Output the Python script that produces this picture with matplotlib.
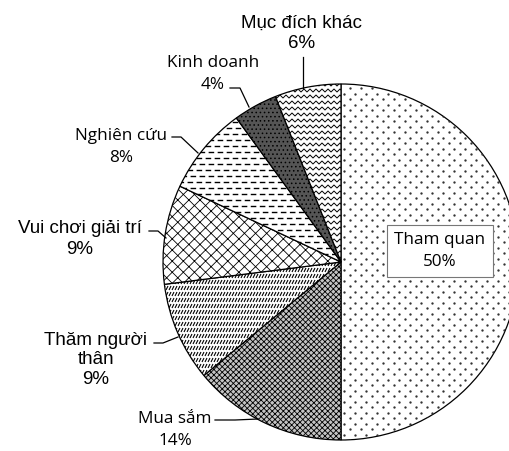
import numpy as np
import matplotlib.pyplot as plt
from matplotlib.collections import LineCollection

plt.rcParams['font.family'] = ['Open Sans', 'DejaVu Sans']
plt.rcParams['hatch.linewidth'] = 0.6

# data (clockwise from the top)
labels = ['Tham quan', 'Mua sắm', 'Thăm người\nthân', 'Vui chơi giải trí',
          'Nghiên cứu', 'Kinh doanh', 'Mục đích khác']
shares = [50, 14, 9, 9, 8, 4, 6]

faces = ['white', '#c4c4c4', 'white', 'white', 'white', '#555555', 'white']
hatches = [None, 'xxxxxx', None, 'xxx', None, '....', None]

fig = plt.figure(figsize=(5.1, 4.51), dpi=100)
ax = fig.add_axes([0, 0, 1, 1])

H = 451
cx, cy, r = 341, H - 262, 178
wedges, _ = ax.pie(shares, startangle=90, counterclock=False, center=(cx, cy),
                   radius=r, colors=faces, frame=True,
                   wedgeprops=dict(edgecolor='black', linewidth=0.9))
ax.set_xlim(0, 510)
ax.set_ylim(0, H)
ax.set_aspect('equal')
ax.axis('off')

for w, h in zip(wedges, hatches):
    if h:
        w.set_hatch(h)

# sparse dot texture for "Tham quan"
w = wedges[0]
for i, y in enumerate(np.arange(cy - r, cy + r, 5.5)):
    xs = np.arange(cx - r + (5.5 if i % 2 else 0), cx + r, 11)
    ln, = ax.plot(xs, np.full_like(xs, y), ls='none', marker='o', ms=1.7,
                  mfc='#333333', mec='none')
    ln.set_clip_path(w)

# short slanted strokes for "Thăm người thân"
w = wedges[2]
segs = []
for y in np.arange(cy - r, cy + r, 6):
    for x in np.arange(cx - r, cx + r, 3):
        segs.append([(x, y), (x + 2, y + 4)])
lc = LineCollection(segs, colors='black', linewidths=0.8)
ax.add_collection(lc)
lc.set_clip_path(w)

# dashed horizontal texture for "Nghiên cứu"
w = wedges[4]
for i, y in enumerate(np.arange(cy - r, cy + r, 6)):
    off = 3 if i % 2 else 0
    ln, = ax.plot([cx - r - off, cx + r], [y, y], color='black', lw=1.0,
                  dashes=(4, 2.5))
    ln.set_clip_path(w)

# zigzag texture for "Mục đích khác"
w = wedges[6]
xs = np.arange(cx - r, cx + r, 3.0)
zig = np.where(np.arange(len(xs)) % 2 == 0, 0, 3.0)
for y in np.arange(cy - r, cy + r, 6):
    ln, = ax.plot(xs, y + zig, color='black', lw=0.7)
    ln.set_clip_path(w)

big = dict(fontsize=13.5, family=['Liberation Sans', 'DejaVu Sans'])
small = dict(fontsize=12.3)

ax.text(440, H - 251, 'Tham quan\n50%', ha='center', va='center',
        linespacing=1.45, **small,
        bbox=dict(boxstyle='square,pad=0.45', fc='white', ec='#777777', lw=0.8))

ax.text(302, H - 33, 'Mục đích khác\n6%', ha='center', va='center',
        linespacing=1.25, **big)
ax.plot([303, 303], [H - 57, H - 88], color='black', lw=0.9)

ax.text(213, H - 74, 'Kinh doanh\n4%', ha='center', va='center',
        linespacing=1.5, **small)
ax.plot([230, 240, 249], [H - 88, H - 88, H - 107], color='black', lw=0.9)

ax.text(121, H - 147, 'Nghiên cứu\n8%', ha='center', va='center',
        linespacing=1.5, **small)
ax.plot([172, 181, 198], [H - 137, H - 137, H - 153], color='black', lw=0.9)

ax.text(80, H - 239, 'Vui chơi giải trí\n9%', ha='center', va='center',
        linespacing=1.25, **big)
ax.plot([149, 158, 166], [H - 231, H - 231, H - 238], color='black', lw=0.9)

ax.text(96, H - 360, 'Thăm người\nthân\n9%', ha='center', va='center',
        linespacing=1.2, **big)
ax.plot([154, 163, 178], [H - 343, H - 343, H - 337], color='black', lw=0.9)

ax.text(175, H - 430, 'Mua sắm\n14%', ha='center', va='center',
        linespacing=1.5, **small)
ax.plot([215, 235, 258], [H - 420, H - 420, H - 419], color='black', lw=0.9)

fig.savefig('out.png', dpi=100)
